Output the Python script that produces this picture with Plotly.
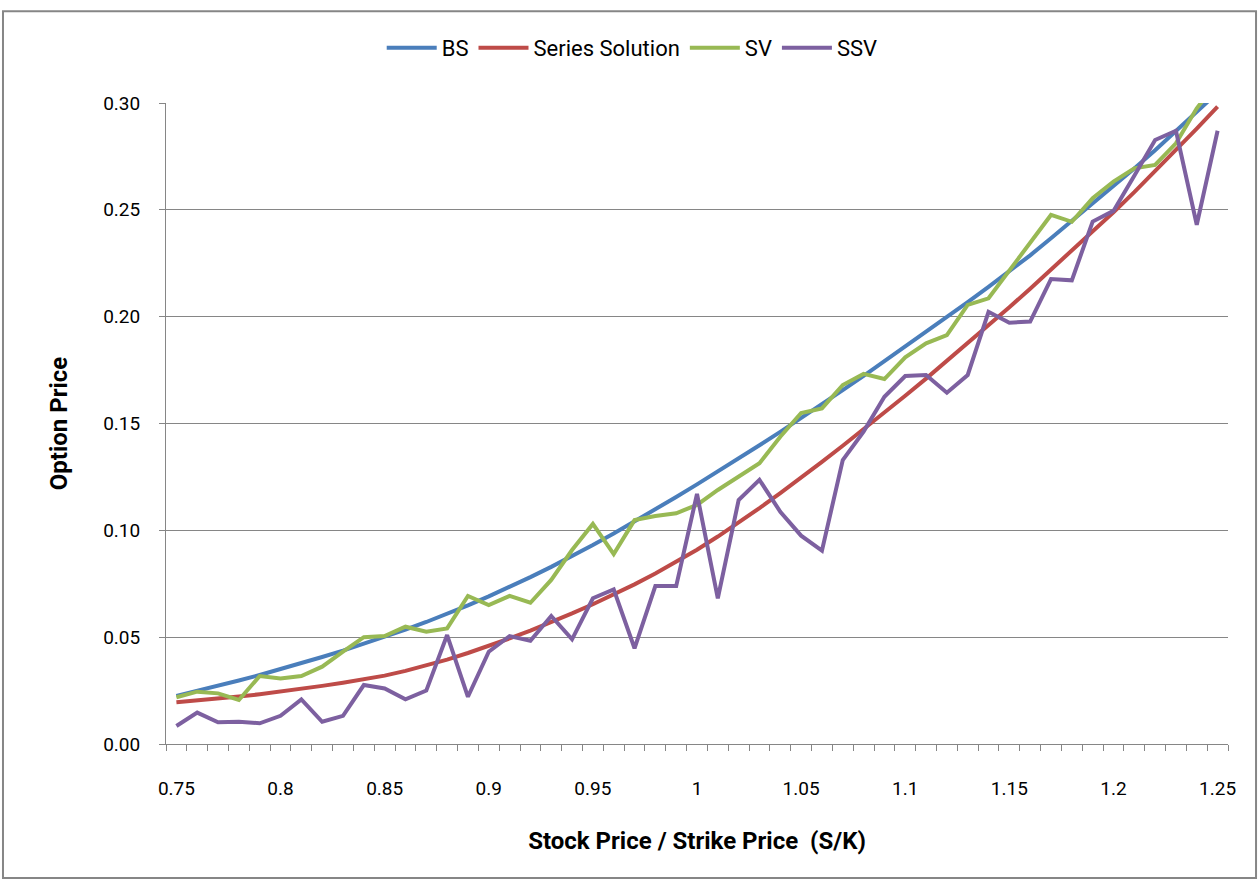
import plotly.graph_objects as go

# Categories: Stock Price / Strike Price (S/K)
s_over_k = [0.75, 0.76, 0.77, 0.78, 0.79, 0.80, 0.81, 0.82, 0.83, 0.84,
            0.85, 0.86, 0.87, 0.88, 0.89, 0.90, 0.91, 0.92, 0.93, 0.94,
            0.95, 0.96, 0.97, 0.98, 0.99, 1.00, 1.01, 1.02, 1.03, 1.04,
            1.05, 1.06, 1.07, 1.08, 1.09, 1.10, 1.11, 1.12, 1.13, 1.14,
            1.15, 1.16, 1.17, 1.18, 1.19, 1.20, 1.21, 1.22, 1.23, 1.24, 1.25]

bs = [0.0225, 0.0248, 0.0272, 0.0297, 0.0323, 0.0350, 0.0378, 0.0407, 0.0437, 0.0468,
      0.0500, 0.0535, 0.0571, 0.0609, 0.0649, 0.0691, 0.0735, 0.0781, 0.0829, 0.0879,
      0.0931, 0.0985, 0.1041, 0.1098, 0.1156, 0.1215, 0.1275, 0.1336, 0.1398, 0.1461,
      0.1525, 0.1590, 0.1656, 0.1723, 0.1791, 0.1859, 0.1928, 0.1998, 0.2068, 0.2139,
      0.2211, 0.2287, 0.2367, 0.2447, 0.2528, 0.2610, 0.2693, 0.2779, 0.2867, 0.2957, 0.3049]

series_solution = [0.0195, 0.0203, 0.0212, 0.0222, 0.0233, 0.0245, 0.0258, 0.0272, 0.0287, 0.0303,
                   0.0320, 0.0342, 0.0367, 0.0395, 0.0426, 0.0459, 0.0494, 0.0531, 0.0570, 0.0611,
                   0.0654, 0.0699, 0.0747, 0.0798, 0.0852, 0.0909, 0.0971, 0.1036, 0.1104, 0.1174,
                   0.1246, 0.1320, 0.1396, 0.1473, 0.1551, 0.1630, 0.1710, 0.1792, 0.1875, 0.1959,
                   0.2044, 0.2131, 0.2219, 0.2308, 0.2398, 0.2489, 0.2583, 0.2680, 0.2779, 0.2880, 0.2983]

sv = [0.0219, 0.0245, 0.0237, 0.0206, 0.0318, 0.0307, 0.0318, 0.0362, 0.0432, 0.0500,
      0.0505, 0.0549, 0.0526, 0.0541, 0.0693, 0.0650, 0.0693, 0.0661, 0.0768, 0.0908,
      0.1030, 0.0889, 0.1048, 0.1067, 0.1080, 0.1119, 0.1189, 0.1251, 0.1314, 0.1438,
      0.1549, 0.1571, 0.1680, 0.1732, 0.1708, 0.1810, 0.1875, 0.1914, 0.2055, 0.2086,
      0.2218, 0.2350, 0.2476, 0.2444, 0.2554, 0.2632, 0.2694, 0.2710, 0.2811, 0.2975, 0.3100]

ssv = [0.0084, 0.0147, 0.0102, 0.0104, 0.0097, 0.0132, 0.0209, 0.0104, 0.0132, 0.0276,
       0.0260, 0.0209, 0.0250, 0.0510, 0.0221, 0.0432, 0.0505, 0.0483, 0.0599, 0.0490,
       0.0682, 0.0724, 0.0448, 0.0739, 0.0739, 0.1170, 0.0682, 0.1142, 0.1236, 0.1087,
       0.0975, 0.0905, 0.1329, 0.1462, 0.1625, 0.1722, 0.1727, 0.1644, 0.1727, 0.2023,
       0.1972, 0.1977, 0.2176, 0.2170, 0.2445, 0.2495, 0.2660, 0.2827, 0.2870, 0.2430, 0.2870]

x_tick_vals = [0.75, 0.80, 0.85, 0.90, 0.95, 1.00, 1.05, 1.10, 1.15, 1.20, 1.25]
x_tick_text = ["0.75", "0.8", "0.85", "0.9", "0.95", "1", "1.05", "1.1", "1.15", "1.2", "1.25"]
category_edges = [0.745 + 0.01 * k for k in range(52)]

series = [
    ("BS", bs, "#4A7EBB"),
    ("Series Solution", series_solution, "#BE4B48"),
    ("SV", sv, "#98B954"),
    ("SSV", ssv, "#7D60A0"),
]

FONT = "Roboto, sans-serif"
GRAY = "#868686"

fig = go.Figure()
for name, vals, color in series:
    fig.add_trace(go.Scatter(x=s_over_k, y=vals, mode="lines", name=name,
                             line=dict(color=color, width=4)))

fig.update_layout(
    width=1259, height=881,
    margin=dict(l=166, r=31, t=103, b=137),
    paper_bgcolor="white", plot_bgcolor="white",
    font=dict(family=FONT, size=19, color="black"),
    showlegend=True,
    legend=dict(orientation="h", x=0.439, y=1.086, xanchor="center", yanchor="middle",
                font=dict(family=FONT, size=22), itemwidth=50, bgcolor="rgba(0,0,0,0)"),
    xaxis=dict(range=[0.745, 1.255], tickvals=x_tick_vals, ticktext=x_tick_text,
               ticks="", showgrid=False, zeroline=False,
               showline=True, linecolor=GRAY, linewidth=1,
               ticklabelstandoff=27,
               minor=dict(tickvals=category_edges, ticks="outside", ticklen=6,
                          tickcolor=GRAY, tickwidth=1, showgrid=False),
               title=dict(text="<b>Stock Price / Strike Price  (S/K)</b>",
                          font=dict(family=FONT, size=24), standoff=33)),
    yaxis=dict(range=[0, 0.30], dtick=0.05, tickformat=".2f",
               ticks="outside", ticklen=6, tickcolor=GRAY, tickwidth=1,
               showgrid=True, gridcolor=GRAY, gridwidth=1, zeroline=False,
               showline=True, linecolor=GRAY, linewidth=1,
               ticklabelstandoff=15,
               title=dict(text="<b>Option Price</b>",
                          font=dict(family=FONT, size=24), standoff=28)),
    shapes=[dict(type="rect", xref="paper", yref="paper",
                 x0=-0.1535, x1=1.0264, y0=-0.209, y1=1.143,
                 line=dict(color=GRAY, width=2), fillcolor="rgba(0,0,0,0)", layer="below")],
)

fig.write_html("out.html", config={"displayModeBar": False},
               post_script="document.body.style.margin='0';")
